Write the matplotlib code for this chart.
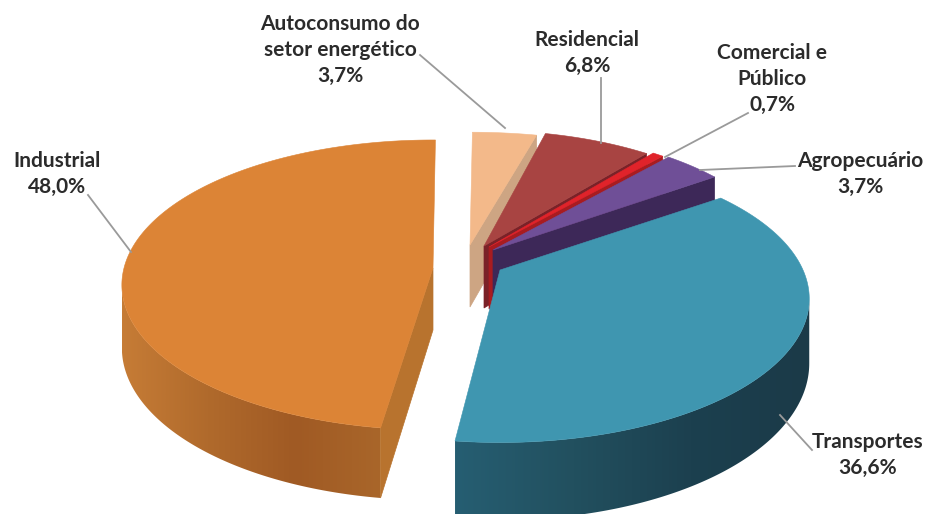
import math
import numpy as np
import matplotlib
matplotlib.use("Agg")
import matplotlib.pyplot as plt
from matplotlib.colors import LinearSegmentedColormap
from matplotlib.patches import Polygon

categories = ["Autoconsumo do\nsetor energético", "Residencial", "Comercial e\nPúblico",
              "Agropecuário", "Transportes", "Industrial"]
values = [3.7, 6.8, 0.7, 3.7, 36.6, 48.0]

# pie layout, in pixels of the 931x514 picture
START_ANGLE = 0.5
DEPTH = 62
tips = [(470, 245), (484, 246), (489, 247), (493, 250), (500, 270), (433, 268)]
radii_x = [309, 285, 288, 291, 303, 309]
radii_y = [126, 129, 131, 134, 138, 143]
persp = [0.117, 0.117, 0.117, 0.117, 0.2, 0.117]
# the big slice starts a little late in the picture
start_trim = [0, 0, 0, 0, 0, 1.8]

top_colors = ["#f3b98a", "#a84442", "#e0232a", "#6f4f97", "#3f96b0", "#dc8436"]
cut_colors = ["#cda583", "#7a2228", "#a81c20", "#3d2858", "#255d70", "#b8732e"]
# which straight edge of the slice shows its wall
cut_edges = ["end", "end", "end", "end", None, "start"]
# outer wall colours, left to right
wall_colors = [None, None, None, None,
               ["#265e72", "#22505f", "#1c404f", "#1b3a48"],
               ["#c67c36", "#b06a2c", "#a05a24", "#a9662a"]]

label_pos = [(340, 50), (587, 53), (772, 79), (860, 174), (868, 455), (57, 174)]
leaders = [((420, 55), (505, 128)), ((601, 78), (601, 143)), ((748, 113), (665, 157)),
           ((795, 166), (700, 170)), ((812, 450), (780, 415)), ((88, 195), (131, 252))]


def project(i, theta, drop=0):
    t = math.radians(theta)
    u, v = math.sin(t), math.cos(t)
    w = 1 + persp[i] * v
    x = tips[i][0] + radii_x[i] * u / w
    y = tips[i][1] - radii_y[i] * v / w + DEPTH * drop / w
    return x, y


def draw_outer_wall(ax, i, a0, a1):
    limit = math.degrees(math.acos(-persp[i]))
    lo, hi = max(a0, limit), min(a1, 360 - limit)
    if lo >= hi:
        return
    angles = np.linspace(lo, hi, 200)
    pts = [project(i, a) for a in angles] + [project(i, a, 1) for a in angles[::-1]]
    poly = Polygon(pts, closed=True, transform=ax.transData, facecolor="none", edgecolor="none")
    ax.add_patch(poly)
    xs = [p[0] for p in pts]
    ys = [p[1] for p in pts]
    cmap = LinearSegmentedColormap.from_list("wall", wall_colors[i])
    img = ax.imshow(np.linspace(0, 1, 256).reshape(1, -1), cmap=cmap, aspect="auto",
                    extent=(min(xs), max(xs), max(ys), min(ys)), zorder=i + 1)
    img.set_clip_path(poly)


def draw_slice(ax, i, a0, a1):
    if wall_colors[i]:
        draw_outer_wall(ax, i, a0, a1)
    if cut_edges[i]:
        a = a1 if cut_edges[i] == "end" else a0
        tip = tips[i]
        top = project(i, a)
        bottom = project(i, a, 1)
        ax.fill([tip[0], top[0], bottom[0], tip[0]],
                [tip[1], top[1], bottom[1], tip[1] + DEPTH],
                color=cut_colors[i], lw=0.5, zorder=i + 1.2)
    pts = [project(i, a) for a in np.linspace(a0, a1, 200)]
    xs = [tips[i][0]] + [p[0] for p in pts]
    ys = [tips[i][1]] + [p[1] for p in pts]
    ax.fill(xs, ys, color=top_colors[i], lw=0.4, zorder=i + 1.5)


fig = plt.figure(figsize=(9.31, 5.14), dpi=100)
ax = fig.add_axes([0, 0, 1, 1])
ax.axis("off")

total = sum(values)
angle = START_ANGLE
for i, val in enumerate(values):
    span = val / total * 360
    draw_slice(ax, i, angle + start_trim[i], angle + span)
    angle += span

for (p0, p1) in leaders:
    ax.plot([p0[0], p1[0]], [p0[1], p1[1]], color="#9a9a9a", lw=1.3, zorder=10)

for name, val, pos in zip(categories, values, label_pos):
    txt = name + "\n" + f"{val:.1f}".replace(".", ",") + "%"
    ax.text(pos[0], pos[1], txt, ha="center", va="center", family="Lato", weight="bold",
            fontsize=15, color="#2b2b2b", linespacing=1.38, zorder=11)

ax.set_xlim(0, 931)
ax.set_ylim(514, 0)
fig.savefig("out.png", dpi=100)
